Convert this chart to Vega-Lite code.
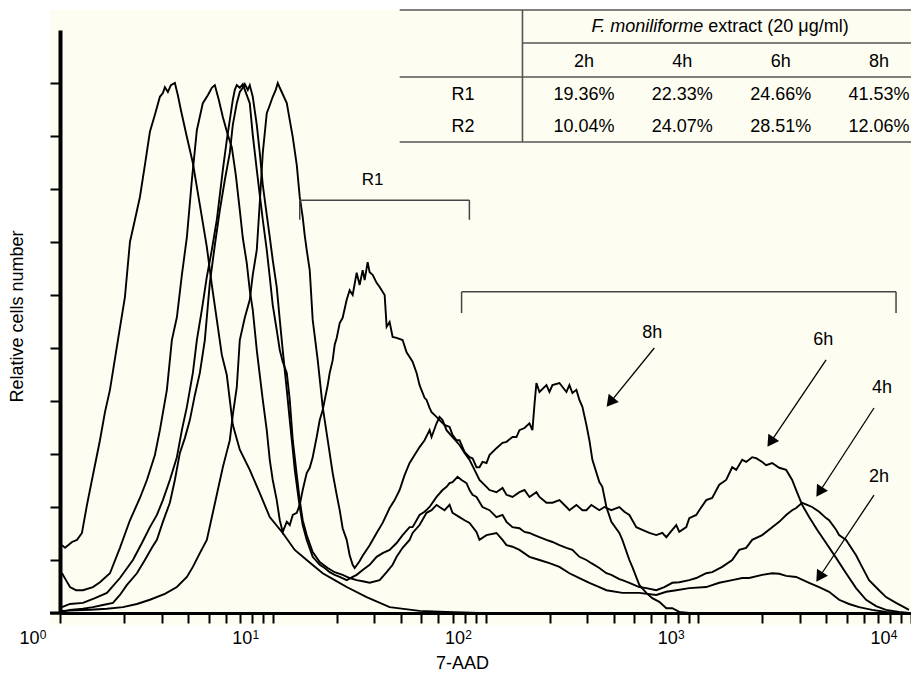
{
"$schema": "https://vega.github.io/schema/vega-lite/v6.json",
"width": 851, "height": 583,
"autosize": {"type": "none"},
"padding": {"left": 60, "top": 30, "right": 0, "bottom": 60},
"background": "white",
"config": {"font": "Liberation Sans", "view": {"stroke": null}, "text": {"color": "black", "fontSize": 18}},
"layer": [
{
"layer": [
{"data": {"values": [{}]}, "mark": {"type": "rect", "fill": "#FEFDF1"},
 "encoding": {"x": {"datum": 0.897, "type": "quantitative"}, "x2": {"datum": 10000}, "y": {"datum": -0.226, "type": "quantitative"}, "y2": {"datum": 11.38}}},
{"data": {"values": [{}]}, "mark": {"type": "rule", "color": "black", "strokeWidth": 3},
 "encoding": {"x": {"datum": 0.897, "type": "quantitative"}, "x2": {"datum": 1}, "y": {"datum": 0, "type": "quantitative"}}},
{"data": {"values": [{}]}, "mark": {"type": "rule", "color": "#555", "strokeWidth": 1.6},
 "encoding": {"x": {"datum": 39.5, "type": "quantitative"}, "x2": {"datum": 10000}, "y": {"datum": 11.377, "type": "quantitative"}}},
{"data": {"values": [{}]}, "mark": {"type": "rule", "color": "#555", "strokeWidth": 1.6},
 "encoding": {"x": {"datum": 149.2, "type": "quantitative"}, "x2": {"datum": 10000}, "y": {"datum": 10.755, "type": "quantitative"}}},
{"data": {"values": [{}]}, "mark": {"type": "rule", "color": "#555", "strokeWidth": 1.6},
 "encoding": {"x": {"datum": 39.5, "type": "quantitative"}, "x2": {"datum": 10000}, "y": {"datum": 10.113, "type": "quantitative"}}},
{"data": {"values": [{}]}, "mark": {"type": "rule", "color": "#555", "strokeWidth": 1.6},
 "encoding": {"x": {"datum": 39.5, "type": "quantitative"}, "x2": {"datum": 10000}, "y": {"datum": 8.887, "type": "quantitative"}}},
{"data": {"values": [{}]}, "mark": {"type": "rule", "color": "#555", "strokeWidth": 1.6},
 "encoding": {"x": {"datum": 149.2, "type": "quantitative"}, "y": {"datum": 8.887, "type": "quantitative"}, "y2": {"datum": 11.377}}},
{"data": {"values": [{}]}, "mark": {"type": "text", "align": "right", "baseline": "middle", "fontStyle": "italic", "fontSize": 18},
 "encoding": {"x": {"datum": 1056, "type": "quantitative"}, "y": {"datum": 11.057, "type": "quantitative"}, "text": {"value": "F. moniliforme"}}},
{"data": {"values": [{}]}, "mark": {"type": "text", "align": "left", "baseline": "middle", "fontSize": 18, "dx": 5},
 "encoding": {"x": {"datum": 1056, "type": "quantitative"}, "y": {"datum": 11.057, "type": "quantitative"}, "text": {"value": "extract (20 μg/ml)"}}},
{"data": {"values": [
{"s":"ctrl","x":1.022,"y":1.28},{"s":"ctrl","x":1.056,"y":1.23},{"s":"ctrl","x":1.139,"y":1.34},{"s":"ctrl","x":1.202,"y":1.38},{"s":"ctrl","x":1.268,"y":1.51},{"s":"ctrl","x":1.339,"y":2.04},{"s":"ctrl","x":1.413,"y":2.51},{"s":"ctrl","x":1.541,"y":3.26},{"s":"ctrl","x":1.627,"y":3.79},{"s":"ctrl","x":1.717,"y":4.21},{"s":"ctrl","x":1.872,"y":5.15},{"s":"ctrl","x":2.019,"y":5.96},{"s":"ctrl","x":2.132,"y":7.0},{"s":"ctrl","x":2.25,"y":7.42},{"s":"ctrl","x":2.375,"y":7.85},{"s":"ctrl","x":2.506,"y":8.45},{"s":"ctrl","x":2.646,"y":9.08},{"s":"ctrl","x":2.793,"y":9.4},{"s":"ctrl","x":2.948,"y":9.74},{"s":"ctrl","x":3.045,"y":9.81},{"s":"ctrl","x":3.112,"y":9.92},{"s":"ctrl","x":3.214,"y":9.83},{"s":"ctrl","x":3.32,"y":9.96},{"s":"ctrl","x":3.467,"y":10.0},{"s":"ctrl","x":3.581,"y":9.77},{"s":"ctrl","x":3.7,"y":9.49},{"s":"ctrl","x":3.948,"y":8.98},{"s":"ctrl","x":4.212,"y":8.49},{"s":"ctrl","x":4.543,"y":7.7},{"s":"ctrl","x":4.899,"y":6.91},{"s":"ctrl","x":5.171,"y":6.19},{"s":"ctrl","x":5.46,"y":5.53},{"s":"ctrl","x":5.763,"y":4.87},{"s":"ctrl","x":6.081,"y":4.49},{"s":"ctrl","x":6.282,"y":4.02},{"s":"ctrl","x":6.49,"y":3.55},{"s":"ctrl","x":7.0,"y":3.08},{"s":"ctrl","x":7.798,"y":2.7},{"s":"ctrl","x":8.69,"y":2.26},{"s":"ctrl","x":9.681,"y":1.81},{"s":"ctrl","x":11.14,"y":1.51},{"s":"ctrl","x":12.69,"y":1.19},{"s":"ctrl","x":14.44,"y":1.0},{"s":"ctrl","x":17.17,"y":0.75},{"s":"ctrl","x":19.55,"y":0.62},{"s":"ctrl","x":22.26,"y":0.49},{"s":"ctrl","x":27.63,"y":0.3},{"s":"ctrl","x":35.43,"y":0.11},{"s":"ctrl","x":48.99,"y":0.04},{"s":"ctrl","x":65.6,"y":0.02},{"s":"ctrl","x":93.7,"y":0},
{"s":"8h","x":1.022,"y":0.75},{"s":"8h","x":1.067,"y":0.62},{"s":"8h","x":1.114,"y":0.49},{"s":"8h","x":1.189,"y":0.43},{"s":"8h","x":1.282,"y":0.43},{"s":"8h","x":1.428,"y":0.49},{"s":"8h","x":1.541,"y":0.58},{"s":"8h","x":1.717,"y":0.75},{"s":"8h","x":1.913,"y":1.23},{"s":"8h","x":2.132,"y":1.75},{"s":"8h","x":2.375,"y":2.17},{"s":"8h","x":2.562,"y":2.51},{"s":"8h","x":2.793,"y":2.98},{"s":"8h","x":2.948,"y":3.45},{"s":"8h","x":3.18,"y":4.21},{"s":"8h","x":3.356,"y":5.15},{"s":"8h","x":3.543,"y":5.58},{"s":"8h","x":3.74,"y":6.38},{"s":"8h","x":3.948,"y":7.09},{"s":"8h","x":4.167,"y":8.17},{"s":"8h","x":4.398,"y":9.11},{"s":"8h","x":4.692,"y":9.62},{"s":"8h","x":4.952,"y":9.77},{"s":"8h","x":5.171,"y":9.91},{"s":"8h","x":5.343,"y":9.96},{"s":"8h","x":5.579,"y":9.68},{"s":"8h","x":5.826,"y":9.36},{"s":"8h","x":6.15,"y":9.02},{"s":"8h","x":6.42,"y":8.79},{"s":"8h","x":6.705,"y":8.26},{"s":"8h","x":7.0,"y":7.6},{"s":"8h","x":7.231,"y":7.08},{"s":"8h","x":7.549,"y":6.6},{"s":"8h","x":7.798,"y":6.09},{"s":"8h","x":8.055,"y":5.72},{"s":"8h","x":8.413,"y":4.96},{"s":"8h","x":8.69,"y":4.49},{"s":"8h","x":8.977,"y":4.02},{"s":"8h","x":9.372,"y":3.45},{"s":"8h","x":9.681,"y":2.89},{"s":"8h","x":10.0,"y":2.51},{"s":"8h","x":10.44,"y":2.13},{"s":"8h","x":10.79,"y":1.75},{"s":"8h","x":11.14,"y":1.53},{"s":"8h","x":11.64,"y":1.72},{"s":"8h","x":12.02,"y":1.66},{"s":"8h","x":12.42,"y":1.85},{"s":"8h","x":12.97,"y":1.89},{"s":"8h","x":13.39,"y":2.04},{"s":"8h","x":13.83,"y":2.32},{"s":"8h","x":14.44,"y":2.64},{"s":"8h","x":14.92,"y":2.74},{"s":"8h","x":15.41,"y":2.94},{"s":"8h","x":16.09,"y":3.32},{"s":"8h","x":16.63,"y":3.64},{"s":"8h","x":17.17,"y":3.83},{"s":"8h","x":17.55,"y":4.02},{"s":"8h","x":18.13,"y":4.3},{"s":"8h","x":18.52,"y":4.53},{"s":"8h","x":19.13,"y":4.77},{"s":"8h","x":19.55,"y":5.06},{"s":"8h","x":19.98,"y":5.19},{"s":"8h","x":20.64,"y":5.47},{"s":"8h","x":21.31,"y":5.57},{"s":"8h","x":22.26,"y":5.91},{"s":"8h","x":22.99,"y":6.09},{"s":"8h","x":23.75,"y":6.0},{"s":"8h","x":24.8,"y":6.42},{"s":"8h","x":25.62,"y":6.19},{"s":"8h","x":26.46,"y":6.47},{"s":"8h","x":27.03,"y":6.28},{"s":"8h","x":27.93,"y":6.62},{"s":"8h","x":28.54,"y":6.43},{"s":"8h","x":29.48,"y":6.38},{"s":"8h","x":30.78,"y":6.23},{"s":"8h","x":31.8,"y":6.15},{"s":"8h","x":33.57,"y":6.0},{"s":"8h","x":34.3,"y":5.4},{"s":"8h","x":35.43,"y":5.49},{"s":"8h","x":36.6,"y":5.21},{"s":"8h","x":38.21,"y":5.19},{"s":"8h","x":40.77,"y":5.15},{"s":"8h","x":42.57,"y":4.92},{"s":"8h","x":43.98,"y":4.83},{"s":"8h","x":45.43,"y":4.74},{"s":"8h","x":47.44,"y":4.53},{"s":"8h","x":48.99,"y":4.3},{"s":"8h","x":51.71,"y":4.06},{"s":"8h","x":52.84,"y":4.02},{"s":"8h","x":54.59,"y":3.87},{"s":"8h","x":55.78,"y":3.79},{"s":"8h","x":58.88,"y":3.7},{"s":"8h","x":60.81,"y":3.64},{"s":"8h","x":64.19,"y":3.55},{"s":"8h","x":67.77,"y":3.51},{"s":"8h","x":70.0,"y":3.36},{"s":"8h","x":73.1,"y":3.26},{"s":"8h","x":75.5,"y":3.26},{"s":"8h","x":79.7,"y":3.04},{"s":"8h","x":84.13,"y":2.94},{"s":"8h","x":86.9,"y":2.92},{"s":"8h","x":90.7,"y":2.75},{"s":"8h","x":93.7,"y":2.75},{"s":"8h","x":96.8,"y":2.85},{"s":"8h","x":101.1,"y":2.83},{"s":"8h","x":104.4,"y":2.98},{"s":"8h","x":112.6,"y":3.11},{"s":"8h","x":120.2,"y":3.21},{"s":"8h","x":125.5,"y":3.23},{"s":"8h","x":133.9,"y":3.32},{"s":"8h","x":139.8,"y":3.32},{"s":"8h","x":144.4,"y":3.45},{"s":"8h","x":152.5,"y":3.49},{"s":"8h","x":160.9,"y":3.58},{"s":"8h","x":166.2,"y":3.45},{"s":"8h","x":169.8,"y":3.92},{"s":"8h","x":173.5,"y":4.34},{"s":"8h","x":179.3,"y":4.17},{"s":"8h","x":193.4,"y":4.3},{"s":"8h","x":199.8,"y":4.17},{"s":"8h","x":206.4,"y":4.3},{"s":"8h","x":222.6,"y":4.34},{"s":"8h","x":240.1,"y":4.17},{"s":"8h","x":248.0,"y":4.3},{"s":"8h","x":256.2,"y":4.15},{"s":"8h","x":267.5,"y":4.21},{"s":"8h","x":276.3,"y":4.02},{"s":"8h","x":285.4,"y":3.89},{"s":"8h","x":298.0,"y":3.55},{"s":"8h","x":307.8,"y":3.26},{"s":"8h","x":318.0,"y":2.89},{"s":"8h","x":342.9,"y":2.47},{"s":"8h","x":354.2,"y":2.38},{"s":"8h","x":370.0,"y":2.0},{"s":"8h","x":390.4,"y":1.72},{"s":"8h","x":425.7,"y":1.51},{"s":"8h","x":439.8,"y":1.38},{"s":"8h","x":474.5,"y":1.0},{"s":"8h","x":489.9,"y":0.87},{"s":"8h","x":528.4,"y":0.53},{"s":"8h","x":570.1,"y":0.38},{"s":"8h","x":608.1,"y":0.28},{"s":"8h","x":656.1,"y":0.21},{"s":"8h","x":707.8,"y":0.09},{"s":"8h","x":755.0,"y":0.09},{"s":"8h","x":814.4,"y":0.02},{"s":"8h","x":907.4,"y":0},
{"s":"6h","x":1.022,"y":0.04},{"s":"6h","x":1.383,"y":0.06},{"s":"6h","x":1.662,"y":0.08},{"s":"6h","x":1.976,"y":0.11},{"s":"6h","x":2.299,"y":0.17},{"s":"6h","x":2.646,"y":0.25},{"s":"6h","x":3.112,"y":0.36},{"s":"6h","x":3.543,"y":0.49},{"s":"6h","x":3.948,"y":0.68},{"s":"6h","x":4.212,"y":0.87},{"s":"6h","x":4.543,"y":1.13},{"s":"6h","x":4.899,"y":1.38},{"s":"6h","x":5.228,"y":1.89},{"s":"6h","x":5.518,"y":2.32},{"s":"6h","x":5.826,"y":2.75},{"s":"6h","x":6.081,"y":3.04},{"s":"6h","x":6.282,"y":3.26},{"s":"6h","x":6.49,"y":3.74},{"s":"6h","x":6.776,"y":4.26},{"s":"6h","x":7.0,"y":5.15},{"s":"6h","x":7.388,"y":5.57},{"s":"6h","x":7.798,"y":5.91},{"s":"6h","x":8.055,"y":6.38},{"s":"6h","x":8.413,"y":6.85},{"s":"6h","x":8.69,"y":7.74},{"s":"6h","x":8.977,"y":8.68},{"s":"6h","x":9.372,"y":9.43},{"s":"6h","x":9.681,"y":9.58},{"s":"6h","x":10.0,"y":9.74},{"s":"6h","x":10.33,"y":9.87},{"s":"6h","x":10.56,"y":10.0},{"s":"6h","x":10.79,"y":9.91},{"s":"6h","x":11.02,"y":9.83},{"s":"6h","x":11.64,"y":9.62},{"s":"6h","x":12.02,"y":9.3},{"s":"6h","x":12.42,"y":8.98},{"s":"6h","x":12.97,"y":8.45},{"s":"6h","x":13.39,"y":7.85},{"s":"6h","x":13.83,"y":7.47},{"s":"6h","x":14.13,"y":7.13},{"s":"6h","x":14.44,"y":6.85},{"s":"6h","x":14.92,"y":6.47},{"s":"6h","x":15.41,"y":5.53},{"s":"6h","x":16.27,"y":4.77},{"s":"6h","x":17.17,"y":3.89},{"s":"6h","x":18.13,"y":3.26},{"s":"6h","x":19.13,"y":2.64},{"s":"6h","x":19.98,"y":2.23},{"s":"6h","x":20.64,"y":1.94},{"s":"6h","x":21.31,"y":1.6},{"s":"6h","x":22.26,"y":1.38},{"s":"6h","x":22.99,"y":1.09},{"s":"6h","x":23.75,"y":0.91},{"s":"6h","x":24.27,"y":0.85},{"s":"6h","x":25.62,"y":0.98},{"s":"6h","x":26.46,"y":1.08},{"s":"6h","x":28.54,"y":1.28},{"s":"6h","x":30.78,"y":1.51},{"s":"6h","x":32.85,"y":1.7},{"s":"6h","x":35.43,"y":1.98},{"s":"6h","x":37.4,"y":2.13},{"s":"6h","x":39.47,"y":2.32},{"s":"6h","x":41.66,"y":2.6},{"s":"6h","x":43.98,"y":2.83},{"s":"6h","x":46.42,"y":2.98},{"s":"6h","x":48.99,"y":3.13},{"s":"6h","x":51.71,"y":3.26},{"s":"6h","x":54.59,"y":3.45},{"s":"6h","x":55.78,"y":3.32},{"s":"6h","x":58.88,"y":3.58},{"s":"6h","x":60.81,"y":3.7},{"s":"6h","x":62.82,"y":3.64},{"s":"6h","x":65.6,"y":3.45},{"s":"6h","x":70.0,"y":3.32},{"s":"6h","x":75.5,"y":3.17},{"s":"6h","x":79.7,"y":3.02},{"s":"6h","x":84.13,"y":2.89},{"s":"6h","x":88.8,"y":2.7},{"s":"6h","x":93.7,"y":2.51},{"s":"6h","x":101.1,"y":2.38},{"s":"6h","x":104.4,"y":2.32},{"s":"6h","x":112.6,"y":2.28},{"s":"6h","x":120.2,"y":2.36},{"s":"6h","x":125.5,"y":2.23},{"s":"6h","x":133.9,"y":2.19},{"s":"6h","x":144.4,"y":2.28},{"s":"6h","x":152.5,"y":2.32},{"s":"6h","x":160.9,"y":2.19},{"s":"6h","x":173.5,"y":2.28},{"s":"6h","x":179.3,"y":2.19},{"s":"6h","x":193.4,"y":2.08},{"s":"6h","x":206.4,"y":2.08},{"s":"6h","x":222.6,"y":2.13},{"s":"6h","x":240.1,"y":2.0},{"s":"6h","x":248.0,"y":1.94},{"s":"6h","x":267.5,"y":2.04},{"s":"6h","x":285.4,"y":1.94},{"s":"6h","x":298.0,"y":1.94},{"s":"6h","x":314.5,"y":2.04},{"s":"6h","x":342.9,"y":1.94},{"s":"6h","x":362.0,"y":2.0},{"s":"6h","x":390.4,"y":1.94},{"s":"6h","x":425.7,"y":2.0},{"s":"6h","x":449.5,"y":1.91},{"s":"6h","x":474.5,"y":1.85},{"s":"6h","x":511.6,"y":1.62},{"s":"6h","x":546.1,"y":1.57},{"s":"6h","x":588.8,"y":1.51},{"s":"6h","x":635.1,"y":1.47},{"s":"6h","x":677.8,"y":1.51},{"s":"6h","x":707.8,"y":1.43},{"s":"6h","x":755.0,"y":1.57},{"s":"6h","x":788.4,"y":1.66},{"s":"6h","x":814.4,"y":1.53},{"s":"6h","x":878.6,"y":1.62},{"s":"6h","x":907.4,"y":1.79},{"s":"6h","x":978.6,"y":1.85},{"s":"6h","x":1011,"y":1.94},{"s":"6h","x":1090,"y":2.13},{"s":"6h","x":1163,"y":2.17},{"s":"6h","x":1255,"y":2.42},{"s":"6h","x":1353,"y":2.51},{"s":"6h","x":1444,"y":2.75},{"s":"6h","x":1508,"y":2.7},{"s":"6h","x":1609,"y":2.89},{"s":"6h","x":1680,"y":2.85},{"s":"6h","x":1792,"y":2.94},{"s":"6h","x":1872,"y":2.92},{"s":"6h","x":1998,"y":2.85},{"s":"6h","x":2085,"y":2.79},{"s":"6h","x":2226,"y":2.83},{"s":"6h","x":2401,"y":2.74},{"s":"6h","x":2589,"y":2.7},{"s":"6h","x":2763,"y":2.51},{"s":"6h","x":2885,"y":2.32},{"s":"6h","x":3079,"y":2.04},{"s":"6h","x":3320,"y":1.81},{"s":"6h","x":3620,"y":1.57},{"s":"6h","x":3990,"y":1.32},{"s":"6h","x":4446,"y":1.04},{"s":"6h","x":4953,"y":0.75},{"s":"6h","x":5518,"y":0.47},{"s":"6h","x":6150,"y":0.25},{"s":"6h","x":6850,"y":0.13},{"s":"6h","x":7631,"y":0.06},{"s":"6h","x":8785,"y":0.02},{"s":"6h","x":9786,"y":0},
{"s":"4h","x":1.022,"y":0.02},{"s":"4h","x":1.114,"y":0.06},{"s":"4h","x":1.282,"y":0.08},{"s":"4h","x":1.428,"y":0.11},{"s":"4h","x":1.591,"y":0.15},{"s":"4h","x":1.774,"y":0.19},{"s":"4h","x":1.913,"y":0.34},{"s":"4h","x":2.064,"y":0.53},{"s":"4h","x":2.299,"y":0.75},{"s":"4h","x":2.506,"y":1.0},{"s":"4h","x":2.703,"y":1.23},{"s":"4h","x":2.854,"y":1.38},{"s":"4h","x":3.045,"y":1.72},{"s":"4h","x":3.284,"y":2.08},{"s":"4h","x":3.467,"y":2.51},{"s":"4h","x":3.66,"y":3.02},{"s":"4h","x":3.862,"y":3.3},{"s":"4h","x":4.077,"y":3.64},{"s":"4h","x":4.303,"y":4.11},{"s":"4h","x":4.543,"y":4.53},{"s":"4h","x":4.795,"y":5.15},{"s":"4h","x":5.061,"y":6.23},{"s":"4h","x":5.343,"y":6.94},{"s":"4h","x":5.64,"y":7.6},{"s":"4h","x":5.953,"y":8.17},{"s":"4h","x":6.282,"y":8.68},{"s":"4h","x":6.49,"y":9.21},{"s":"4h","x":6.776,"y":9.62},{"s":"4h","x":7.0,"y":9.83},{"s":"4h","x":7.231,"y":9.91},{"s":"4h","x":7.388,"y":9.98},{"s":"4h","x":7.632,"y":9.87},{"s":"4h","x":7.798,"y":9.96},{"s":"4h","x":8.055,"y":9.74},{"s":"4h","x":8.413,"y":9.21},{"s":"4h","x":8.69,"y":8.68},{"s":"4h","x":8.977,"y":8.08},{"s":"4h","x":9.372,"y":7.51},{"s":"4h","x":9.681,"y":7.09},{"s":"4h","x":10.0,"y":6.66},{"s":"4h","x":10.44,"y":6.15},{"s":"4h","x":10.79,"y":5.53},{"s":"4h","x":11.14,"y":4.96},{"s":"4h","x":11.64,"y":4.21},{"s":"4h","x":12.02,"y":3.64},{"s":"4h","x":12.42,"y":3.08},{"s":"4h","x":12.69,"y":2.7},{"s":"4h","x":13.39,"y":2.0},{"s":"4h","x":13.83,"y":1.66},{"s":"4h","x":14.44,"y":1.38},{"s":"4h","x":15.41,"y":1.06},{"s":"4h","x":16.63,"y":0.91},{"s":"4h","x":17.55,"y":0.85},{"s":"4h","x":18.52,"y":0.77},{"s":"4h","x":19.55,"y":0.72},{"s":"4h","x":20.64,"y":0.68},{"s":"4h","x":22.26,"y":0.62},{"s":"4h","x":23.75,"y":0.68},{"s":"4h","x":24.8,"y":0.72},{"s":"4h","x":26.46,"y":0.81},{"s":"4h","x":28.54,"y":0.91},{"s":"4h","x":30.78,"y":1.06},{"s":"4h","x":32.85,"y":1.13},{"s":"4h","x":35.43,"y":1.19},{"s":"4h","x":38.21,"y":1.32},{"s":"4h","x":40.77,"y":1.47},{"s":"4h","x":43.98,"y":1.62},{"s":"4h","x":45.43,"y":1.62},{"s":"4h","x":48.99,"y":1.85},{"s":"4h","x":51.71,"y":1.91},{"s":"4h","x":54.59,"y":2.0},{"s":"4h","x":58.88,"y":2.19},{"s":"4h","x":62.82,"y":2.32},{"s":"4h","x":65.6,"y":2.38},{"s":"4h","x":67.77,"y":2.45},{"s":"4h","x":70.0,"y":2.47},{"s":"4h","x":73.9,"y":2.57},{"s":"4h","x":77.2,"y":2.51},{"s":"4h","x":81.44,"y":2.45},{"s":"4h","x":84.13,"y":2.32},{"s":"4h","x":86.9,"y":2.23},{"s":"4h","x":90.7,"y":2.19},{"s":"4h","x":96.8,"y":2.0},{"s":"4h","x":104.4,"y":1.94},{"s":"4h","x":112.6,"y":1.81},{"s":"4h","x":120.2,"y":1.85},{"s":"4h","x":125.5,"y":1.72},{"s":"4h","x":133.9,"y":1.62},{"s":"4h","x":144.4,"y":1.6},{"s":"4h","x":152.5,"y":1.53},{"s":"4h","x":160.9,"y":1.51},{"s":"4h","x":169.8,"y":1.47},{"s":"4h","x":179.3,"y":1.43},{"s":"4h","x":193.4,"y":1.38},{"s":"4h","x":206.4,"y":1.34},{"s":"4h","x":222.6,"y":1.28},{"s":"4h","x":240.1,"y":1.23},{"s":"4h","x":256.2,"y":1.19},{"s":"4h","x":276.3,"y":1.06},{"s":"4h","x":298.0,"y":1.0},{"s":"4h","x":314.5,"y":0.94},{"s":"4h","x":342.9,"y":0.85},{"s":"4h","x":370.0,"y":0.75},{"s":"4h","x":390.4,"y":0.72},{"s":"4h","x":425.7,"y":0.64},{"s":"4h","x":439.8,"y":0.62},{"s":"4h","x":474.5,"y":0.57},{"s":"4h","x":528.4,"y":0.49},{"s":"4h","x":570.1,"y":0.47},{"s":"4h","x":635.1,"y":0.43},{"s":"4h","x":692.6,"y":0.49},{"s":"4h","x":755.0,"y":0.57},{"s":"4h","x":814.4,"y":0.58},{"s":"4h","x":907.4,"y":0.62},{"s":"4h","x":978.6,"y":0.66},{"s":"4h","x":1090,"y":0.75},{"s":"4h","x":1163,"y":0.77},{"s":"4h","x":1296,"y":0.87},{"s":"4h","x":1444,"y":1.0},{"s":"4h","x":1558,"y":1.19},{"s":"4h","x":1680,"y":1.23},{"s":"4h","x":1792,"y":1.38},{"s":"4h","x":1998,"y":1.47},{"s":"4h","x":2226,"y":1.62},{"s":"4h","x":2401,"y":1.72},{"s":"4h","x":2589,"y":1.85},{"s":"4h","x":2763,"y":1.94},{"s":"4h","x":2885,"y":1.98},{"s":"4h","x":3079,"y":2.08},{"s":"4h","x":3249,"y":2.04},{"s":"4h","x":3429,"y":2.0},{"s":"4h","x":3700,"y":1.91},{"s":"4h","x":3990,"y":1.79},{"s":"4h","x":4121,"y":1.75},{"s":"4h","x":4446,"y":1.57},{"s":"4h","x":4592,"y":1.47},{"s":"4h","x":4953,"y":1.38},{"s":"4h","x":5518,"y":1.09},{"s":"4h","x":5888,"y":0.87},{"s":"4h","x":6351,"y":0.62},{"s":"4h","x":7076,"y":0.43},{"s":"4h","x":7631,"y":0.3},{"s":"4h","x":8505,"y":0.19},{"s":"4h","x":9271,"y":0.11},{"s":"4h","x":9786,"y":0.06},
{"s":"2h","x":1.022,"y":0.11},{"s":"2h","x":1.114,"y":0.17},{"s":"2h","x":1.282,"y":0.19},{"s":"2h","x":1.46,"y":0.28},{"s":"2h","x":1.662,"y":0.38},{"s":"2h","x":1.913,"y":0.66},{"s":"2h","x":2.202,"y":1.0},{"s":"2h","x":2.427,"y":1.32},{"s":"2h","x":2.646,"y":1.62},{"s":"2h","x":2.854,"y":1.85},{"s":"2h","x":3.045,"y":2.13},{"s":"2h","x":3.284,"y":2.51},{"s":"2h","x":3.543,"y":2.94},{"s":"2h","x":3.74,"y":3.45},{"s":"2h","x":3.948,"y":3.89},{"s":"2h","x":4.212,"y":4.53},{"s":"2h","x":4.398,"y":5.15},{"s":"2h","x":4.642,"y":5.72},{"s":"2h","x":4.899,"y":6.34},{"s":"2h","x":5.171,"y":6.85},{"s":"2h","x":5.46,"y":7.42},{"s":"2h","x":5.826,"y":8.36},{"s":"2h","x":6.081,"y":8.92},{"s":"2h","x":6.282,"y":9.3},{"s":"2h","x":6.49,"y":9.68},{"s":"2h","x":6.632,"y":9.87},{"s":"2h","x":6.776,"y":9.96},{"s":"2h","x":7.0,"y":9.91},{"s":"2h","x":7.231,"y":9.98},{"s":"2h","x":7.549,"y":9.77},{"s":"2h","x":7.798,"y":9.62},{"s":"2h","x":8.055,"y":9.02},{"s":"2h","x":8.413,"y":8.36},{"s":"2h","x":8.69,"y":7.89},{"s":"2h","x":8.977,"y":7.42},{"s":"2h","x":9.372,"y":6.85},{"s":"2h","x":9.681,"y":6.34},{"s":"2h","x":10.0,"y":5.81},{"s":"2h","x":10.44,"y":5.34},{"s":"2h","x":10.79,"y":4.96},{"s":"2h","x":11.14,"y":4.74},{"s":"2h","x":11.64,"y":4.53},{"s":"2h","x":12.02,"y":4.02},{"s":"2h","x":12.42,"y":3.26},{"s":"2h","x":12.97,"y":2.6},{"s":"2h","x":13.39,"y":2.13},{"s":"2h","x":13.83,"y":1.75},{"s":"2h","x":14.44,"y":1.47},{"s":"2h","x":15.41,"y":1.15},{"s":"2h","x":16.63,"y":0.96},{"s":"2h","x":18.13,"y":0.85},{"s":"2h","x":19.55,"y":0.77},{"s":"2h","x":21.31,"y":0.72},{"s":"2h","x":22.99,"y":0.66},{"s":"2h","x":24.8,"y":0.62},{"s":"2h","x":26.46,"y":0.6},{"s":"2h","x":28.54,"y":0.57},{"s":"2h","x":31.8,"y":0.62},{"s":"2h","x":34.3,"y":0.77},{"s":"2h","x":36.6,"y":0.91},{"s":"2h","x":38.21,"y":1.06},{"s":"2h","x":40.77,"y":1.23},{"s":"2h","x":43.98,"y":1.38},{"s":"2h","x":45.43,"y":1.51},{"s":"2h","x":48.99,"y":1.66},{"s":"2h","x":52.84,"y":1.89},{"s":"2h","x":55.78,"y":1.94},{"s":"2h","x":58.88,"y":2.04},{"s":"2h","x":60.81,"y":2.0},{"s":"2h","x":64.19,"y":1.94},{"s":"2h","x":67.77,"y":2.04},{"s":"2h","x":70.0,"y":1.89},{"s":"2h","x":75.5,"y":1.81},{"s":"2h","x":79.7,"y":1.75},{"s":"2h","x":84.13,"y":1.7},{"s":"2h","x":90.7,"y":1.53},{"s":"2h","x":93.7,"y":1.38},{"s":"2h","x":101.1,"y":1.47},{"s":"2h","x":112.6,"y":1.51},{"s":"2h","x":120.2,"y":1.38},{"s":"2h","x":125.5,"y":1.28},{"s":"2h","x":133.9,"y":1.25},{"s":"2h","x":144.4,"y":1.19},{"s":"2h","x":160.9,"y":1.06},{"s":"2h","x":179.3,"y":1.0},{"s":"2h","x":199.8,"y":0.94},{"s":"2h","x":222.6,"y":0.87},{"s":"2h","x":248.0,"y":0.75},{"s":"2h","x":276.3,"y":0.66},{"s":"2h","x":307.8,"y":0.57},{"s":"2h","x":342.9,"y":0.49},{"s":"2h","x":370.0,"y":0.43},{"s":"2h","x":439.8,"y":0.38},{"s":"2h","x":528.4,"y":0.38},{"s":"2h","x":635.1,"y":0.34},{"s":"2h","x":707.8,"y":0.4},{"s":"2h","x":788.4,"y":0.43},{"s":"2h","x":907.4,"y":0.47},{"s":"2h","x":1090,"y":0.49},{"s":"2h","x":1255,"y":0.57},{"s":"2h","x":1444,"y":0.62},{"s":"2h","x":1609,"y":0.66},{"s":"2h","x":1735,"y":0.66},{"s":"2h","x":1998,"y":0.72},{"s":"2h","x":2226,"y":0.75},{"s":"2h","x":2401,"y":0.74},{"s":"2h","x":2589,"y":0.7},{"s":"2h","x":2885,"y":0.68},{"s":"2h","x":3320,"y":0.57},{"s":"2h","x":3700,"y":0.49},{"s":"2h","x":4121,"y":0.4},{"s":"2h","x":4592,"y":0.25},{"s":"2h","x":5117,"y":0.17},{"s":"2h","x":5700,"y":0.11},{"s":"2h","x":6561,"y":0.06},{"s":"2h","x":7631,"y":0.02},{"s":"2h","x":8785,"y":0}
]},
 "mark": {"type": "line", "color": "black", "strokeWidth": 1.9, "interpolate": "linear"},
 "encoding": {
  "detail": {"field": "s", "type": "nominal"},
  "x": {"field": "x", "type": "quantitative", "scale": {"type": "log", "domain": [1, 10000], "nice": false},
   "axis": {"title": "7-AAD", "grid": false, "zindex": 1,
    "values": [1,2,3,4,5,6,7,8,9,10,20,30,40,50,60,70,80,90,100,200,300,400,500,600,700,800,900,1000,2000,3000,4000,5000,6000,7000,8000,9000,10000],
    "labelExpr": "datum.value == 1 || datum.value == 10 || datum.value == 100 || datum.value == 1000 || datum.value == 10000 ? '10' : ''",
    "tickSize": 10, "tickWidth": 2, "tickColor": "black", "domainColor": "black", "domainWidth": 3,
    "labelFont": "Liberation Sans", "labelFontSize": 18, "labelColor": "black", "labelPadding": 6,
    "labelFlush": false, "labelOverlap": false, "labelBound": false, "labelOffset": -31, "labelAlign": "center",
    "titleFont": "Liberation Sans", "titleFontSize": 18, "titleFontWeight": "normal", "titleColor": "black",
    "titleX": 402, "titleY": 50, "titleAlign": "center", "titleBaseline": "middle"}},
  "y": {"field": "y", "type": "quantitative", "scale": {"domain": [0, 11], "nice": false, "zero": false},
   "axis": {"title": "Relative cells number", "grid": false, "zindex": 1, "values": [0,1,2,3,4,5,6,7,8,9,10], "labels": false,
    "tickSize": 10, "tickWidth": 2, "tickColor": "black", "domainColor": "black", "domainWidth": 4,
    "titleFont": "Liberation Sans", "titleFontSize": 18, "titleFontWeight": "normal", "titleColor": "black",
    "titleX": -43, "titleY": 286, "titleAngle": -90, "titleAlign": "center", "titleBaseline": "middle"}}
 }},
{"data": {"values": [{"v": 1, "e": "0"}, {"v": 10, "e": "1"}, {"v": 100, "e": "2"}, {"v": 1000, "e": "3"}, {"v": 10000, "e": "4"}]},
 "mark": {"type": "text", "fontSize": 12, "dx": -17, "align": "center", "baseline": "middle"},
 "encoding": {"x": {"field": "v", "type": "quantitative", "title": "7-AAD"}, "y": {"datum": -0.41, "type": "quantitative"}, "text": {"field": "e", "type": "nominal"}}},
{"data": {"values": [{}]}, "mark": {"type": "rule", "color": "#444", "strokeWidth": 1.5},
 "encoding": {"x": {"datum": 13.39, "type": "quantitative"}, "x2": {"datum": 84}, "y": {"datum": 7.79, "type": "quantitative"}}},
{"data": {"values": [{}]}, "mark": {"type": "rule", "color": "#444", "strokeWidth": 1.5},
 "encoding": {"x": {"datum": 13.39, "type": "quantitative"}, "y": {"datum": 7.79, "type": "quantitative"}, "y2": {"datum": 7.42}}},
{"data": {"values": [{}]}, "mark": {"type": "rule", "color": "#444", "strokeWidth": 1.5},
 "encoding": {"x": {"datum": 84, "type": "quantitative"}, "y": {"datum": 7.79, "type": "quantitative"}, "y2": {"datum": 7.42}}},
{"data": {"values": [{}]}, "mark": {"type": "text", "fontSize": 17, "align": "center", "baseline": "middle"},
 "encoding": {"x": {"datum": 29.48, "type": "quantitative"}, "y": {"datum": 8.17, "type": "quantitative"}, "text": {"value": "R1"}}},
{"data": {"values": [{}]}, "mark": {"type": "rule", "color": "#444", "strokeWidth": 1.5},
 "encoding": {"x": {"datum": 77.2, "type": "quantitative"}, "x2": {"datum": 8505}, "y": {"datum": 6.06, "type": "quantitative"}}},
{"data": {"values": [{}]}, "mark": {"type": "rule", "color": "#444", "strokeWidth": 1.5},
 "encoding": {"x": {"datum": 77.2, "type": "quantitative"}, "y": {"datum": 6.06, "type": "quantitative"}, "y2": {"datum": 5.66}}},
{"data": {"values": [{}]}, "mark": {"type": "rule", "color": "#444", "strokeWidth": 1.5},
 "encoding": {"x": {"datum": 8505, "type": "quantitative"}, "y": {"datum": 6.06, "type": "quantitative"}, "y2": {"datum": 5.66}}},
{"data": {"values": [{}]}, "mark": {"type": "rule", "color": "black", "strokeWidth": 1.3},
 "encoding": {"x": {"datum": 621.5, "type": "quantitative"}, "y": {"datum": 5.0, "type": "quantitative"}, "x2": {"datum": 385.5}, "y2": {"datum": 3.975}}},
{"data": {"values": [{}]}, "mark": {"type": "point", "shape": "triangle-up", "filled": true, "color": "black", "opacity": 1, "size": 170, "angle": 219},
 "encoding": {"x": {"datum": 385.5, "type": "quantitative"}, "y": {"datum": 3.975, "type": "quantitative"}}},
{"data": {"values": [{}]}, "mark": {"type": "text", "fontSize": 18, "align": "center", "baseline": "middle"},
 "encoding": {"x": {"datum": 608, "type": "quantitative"}, "y": {"datum": 5.28, "type": "quantitative"}, "text": {"value": "8h"}}},
{"data": {"values": [{}]}, "mark": {"type": "rule", "color": "black", "strokeWidth": 1.3},
 "encoding": {"x": {"datum": 3990, "type": "quantitative"}, "y": {"datum": 4.774, "type": "quantitative"}, "x2": {"datum": 2188}, "y2": {"datum": 3.226}}},
{"data": {"values": [{}]}, "mark": {"type": "point", "shape": "triangle-up", "filled": true, "color": "black", "opacity": 1, "size": 170, "angle": 214},
 "encoding": {"x": {"datum": 2188, "type": "quantitative"}, "y": {"datum": 3.226, "type": "quantitative"}}},
{"data": {"values": [{}]}, "mark": {"type": "text", "fontSize": 18, "align": "center", "baseline": "middle"},
 "encoding": {"x": {"datum": 3864, "type": "quantitative"}, "y": {"datum": 5.15, "type": "quantitative"}, "text": {"value": "6h"}}},
{"data": {"values": [{}]}, "mark": {"type": "rule", "color": "black", "strokeWidth": 1.3},
 "encoding": {"x": {"datum": 6700, "type": "quantitative"}, "y": {"datum": 3.868, "type": "quantitative"}, "x2": {"datum": 3711}, "y2": {"datum": 2.283}}},
{"data": {"values": [{}]}, "mark": {"type": "point", "shape": "triangle-up", "filled": true, "color": "black", "opacity": 1, "size": 170, "angle": 213},
 "encoding": {"x": {"datum": 3711, "type": "quantitative"}, "y": {"datum": 2.283, "type": "quantitative"}}},
{"data": {"values": [{}]}, "mark": {"type": "text", "fontSize": 18, "align": "center", "baseline": "middle"},
 "encoding": {"x": {"datum": 7305, "type": "quantitative"}, "y": {"datum": 4.245, "type": "quantitative"}, "text": {"value": "4h"}}},
{"data": {"values": [{}]}, "mark": {"type": "rule", "color": "black", "strokeWidth": 1.3},
 "encoding": {"x": {"datum": 6700, "type": "quantitative"}, "y": {"datum": 2.226, "type": "quantitative"}, "x2": {"datum": 3711}, "y2": {"datum": 0.679}}},
{"data": {"values": [{}]}, "mark": {"type": "point", "shape": "triangle-up", "filled": true, "color": "black", "opacity": 1, "size": 170, "angle": 213},
 "encoding": {"x": {"datum": 3711, "type": "quantitative"}, "y": {"datum": 0.679, "type": "quantitative"}}},
{"data": {"values": [{}]}, "mark": {"type": "text", "fontSize": 18, "align": "center", "baseline": "middle"},
 "encoding": {"x": {"datum": 7076, "type": "quantitative"}, "y": {"datum": 2.566, "type": "quantitative"}, "text": {"value": "2h"}}}
]
},
{
"data": {"values": [
{"row":"hdr","h":2,"text":"2h"},{"row":"hdr","h":4,"text":"4h"},{"row":"hdr","h":6,"text":"6h"},{"row":"hdr","h":8,"text":"8h"},
{"row":"R1","h":2,"text":"19.36%"},{"row":"R1","h":4,"text":"22.33%"},{"row":"R1","h":6,"text":"24.66%"},{"row":"R1","h":8,"text":"41.53%"},
{"row":"R2","h":2,"text":"10.04%"},{"row":"R2","h":4,"text":"24.07%"},{"row":"R2","h":6,"text":"28.51%"},{"row":"R2","h":8,"text":"12.06%"}
]},
"layer": [
{"mark": {"type": "text", "fontSize": 18, "align": "center", "baseline": "middle"},
 "encoding": {
  "x": {"field": "h", "type": "quantitative", "scale": {"domain": [2, 8], "range": [524, 819], "nice": false, "zero": false}, "axis": null},
  "y": {"field": "row", "type": "nominal", "scale": {"type": "point", "domain": ["hdr", "R1", "R2"], "range": [32, 97], "padding": 0}, "axis": null},
  "text": {"field": "text", "type": "nominal"}}},
{"data": {"values": [{"row": "R1"}, {"row": "R2"}]},
 "mark": {"type": "text", "fontSize": 18, "align": "center", "baseline": "middle"},
 "encoding": {
  "x": {"datum": -0.46, "type": "quantitative"},
  "y": {"field": "row", "type": "nominal", "axis": null},
  "text": {"field": "row", "type": "nominal"}}}
]
}
],
"resolve": {"scale": {"x": "independent", "y": "independent"}}
}
